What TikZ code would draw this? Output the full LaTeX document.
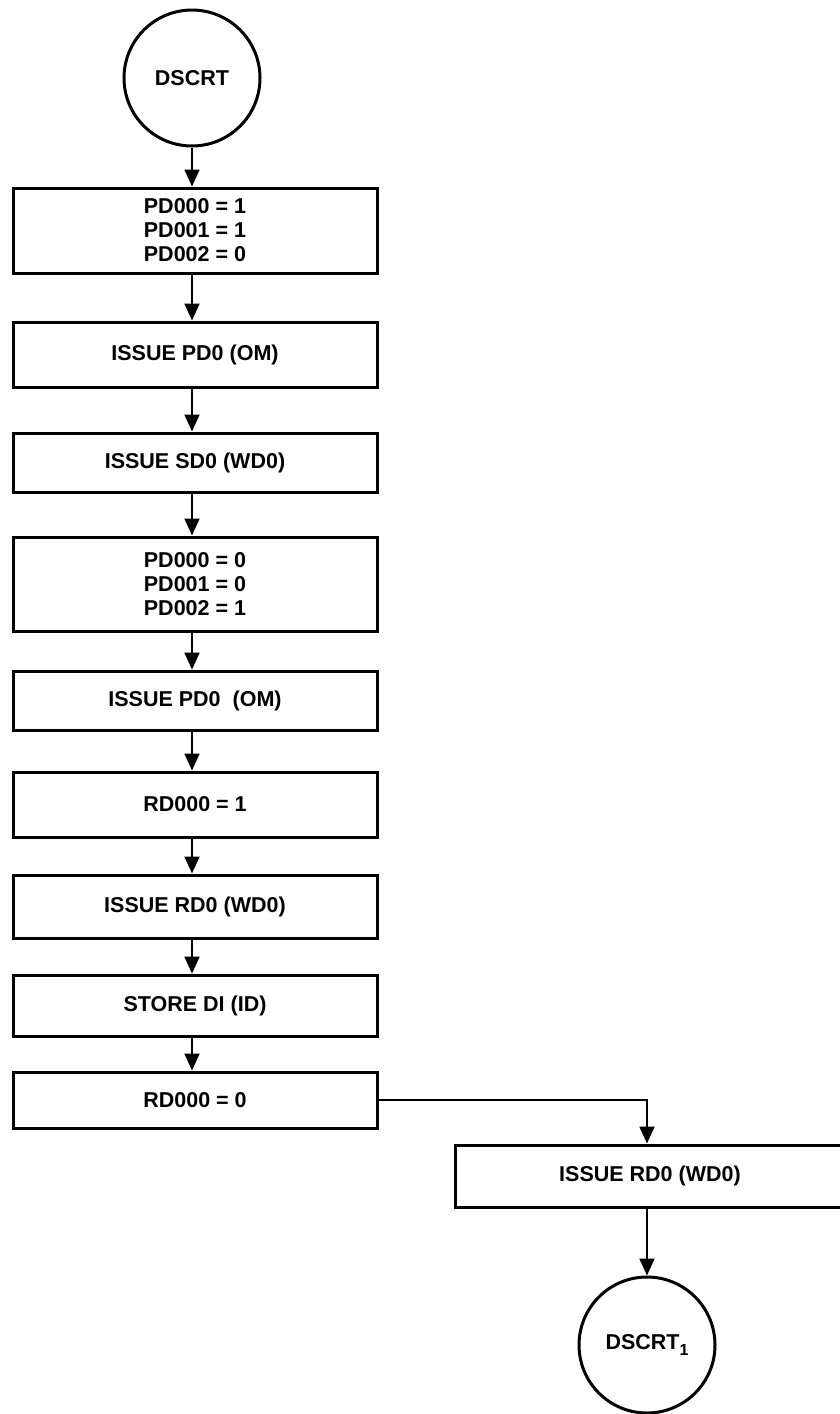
\documentclass[tikz,border=0pt]{standalone}
\usepackage{fontspec}
\setmainfont{Liberation Sans}
\usetikzlibrary{arrows.meta}
\begin{document}
\begin{tikzpicture}[x=1pt,y=-1pt,
  every node/.style={font=\fontsize{21.5}{24}\selectfont\bfseries},
  procbox/.style={draw, line width=3pt, rectangle, inner sep=0pt, minimum width=364pt, align=left},
  term/.style={draw, line width=3pt, circle, inner sep=0pt, minimum size=136pt},
  flow/.style={line width=2pt, -{Triangle[width=15pt,length=17pt]}}
]
\useasboundingbox (0,0) rectangle (840,1414);
\node[term] (c1) at (192,78) {DSCRT};
\node[procbox, minimum height=85pt] (b1) at (195,230.5) {PD000 = 1\\PD001 = 1\\PD002 = 0};
\node[procbox, minimum height=65pt] (b2) at (195,354.5) {ISSUE PD0 (OM)};
\node[procbox, minimum height=59pt] (b3) at (195,462.5) {ISSUE SD0 (WD0)};
\node[procbox, minimum height=94pt] (b4) at (195,584) {PD000 = 0\\PD001 = 0\\PD002 = 1};
\node[procbox, minimum height=59pt] (b5) at (195,700.5) {ISSUE PD0~~(OM)};
\node[procbox, minimum height=65pt] (b6) at (195,804.5) {RD000 = 1};
\node[procbox, minimum height=63pt] (b7) at (195,906.5) {ISSUE RD0 (WD0)};
\node[procbox, minimum height=61pt] (b8) at (195,1005.5) {STORE DI (ID)};
\node[procbox, minimum height=56pt] (b9) at (195,1100) {RD000 = 0};
\node[procbox, minimum height=62pt, minimum width=390pt] (b10) at (650,1176) {ISSUE RD0 (WD0)};
\node[term] (c2) at (647,1345) {DSCRT\raisebox{-6pt}{\fontsize{16}{16}\selectfont 1}};
\draw[flow] (c1.south) -- (c1.south |- b1.north);
\foreach \a/\b in {b1/b2,b2/b3,b3/b4,b4/b5,b5/b6,b6/b7,b7/b8,b8/b9}{
  \draw[flow] (\a.south -| c1.south) -- (\b.north -| c1.south);
}
\draw[flow] (b9.east) -| (c2.north |- b10.north);
\draw[flow] (c2.north |- b10.south) -- (c2.north);
\end{tikzpicture}
\end{document}
